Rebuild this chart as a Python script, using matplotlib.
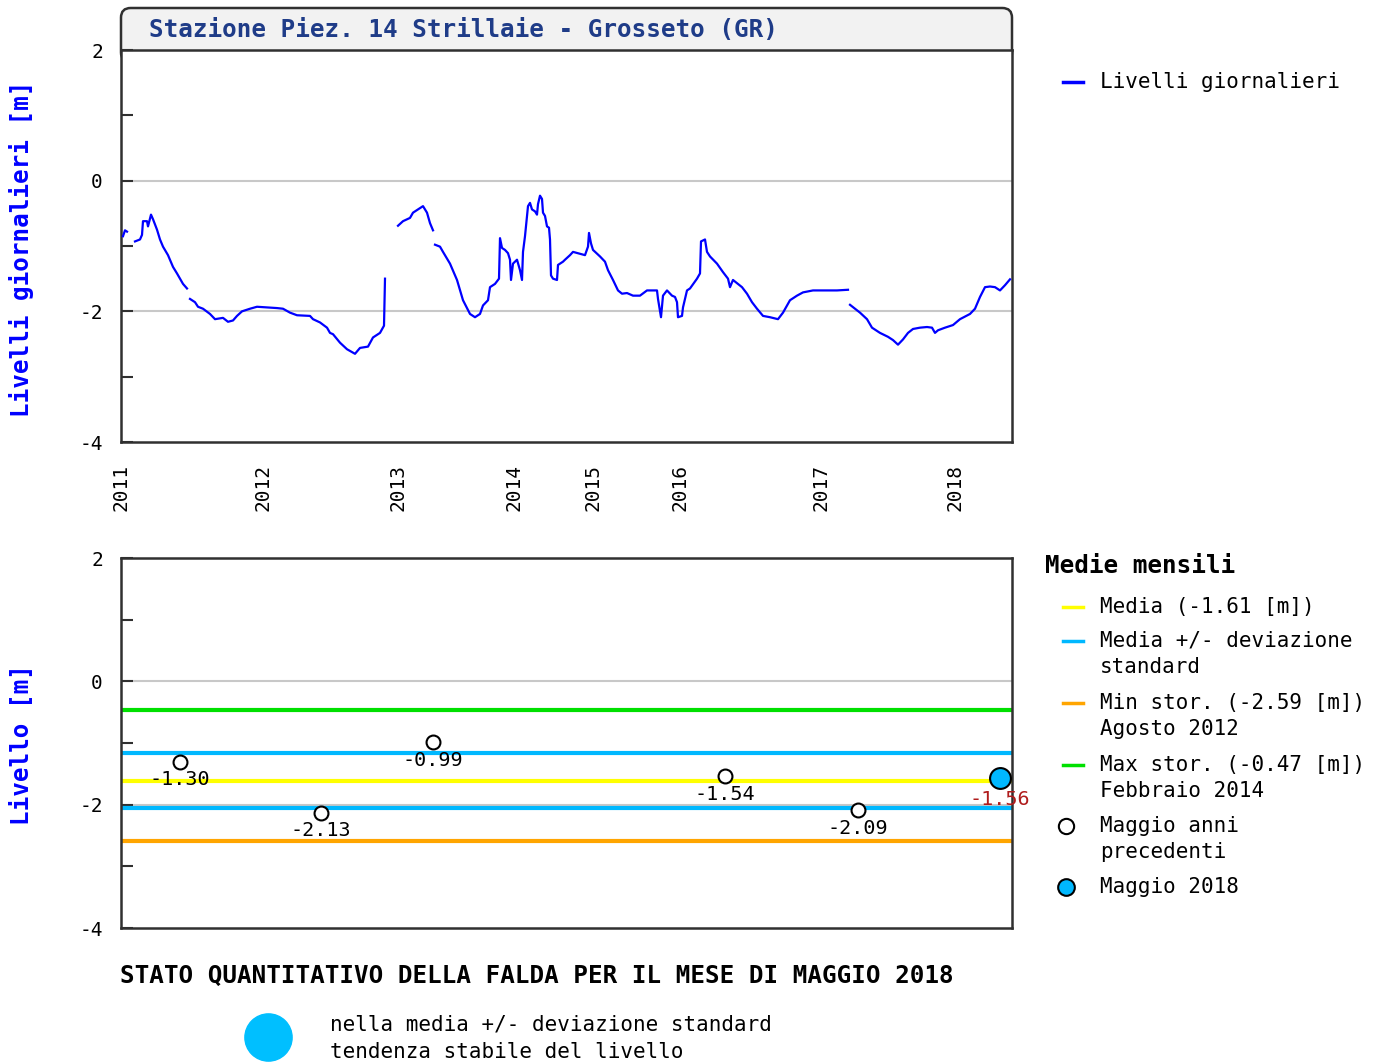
import numpy as np
import matplotlib
matplotlib.use('Agg')
import matplotlib.pyplot as plt
from matplotlib.lines import Line2D
from matplotlib.patches import FancyBboxPatch

W, H = 1381, 1062
MONO = 'DejaVu Sans Mono'
nan = np.nan

# ---------------- data ----------------
# daily levels: x = progressive sample index along the (non-linear) time axis; nan = gap
idx = [2, 4, 6, 9,
       14, 19, 21, 22, 26, 27, 30, 32, 34, 36, 39, 42, 47, 52, 56, 59, 62, 66, 67,
       69, 74, 77, 82, 89, 94, 102, 107, 112, 116, 121, 129, 136, 146, 156, 162, 169, 176,
       189, 192, 199, 206, 209, 212, 219, 226, 234, 239, 247, 252, 259, 262, 263, 264, 270,
       277, 282, 289, 292, 297, 302, 306, 309, 312, 313,
       314, 319, 322, 329, 336, 342, 349, 354, 359, 362, 367, 369, 374, 377, 378, 379, 381,
       384, 387, 389, 390, 392, 396, 399, 401, 402, 404, 407, 409, 411, 414, 416, 417, 419,
       421, 422, 424, 426, 428, 429, 430, 432, 436, 437, 442, 444, 449, 452, 459, 464, 467,
       468, 470, 472, 479, 484, 487, 492, 497, 501, 506, 512, 519, 526, 536, 537, 540, 542,
       546, 551, 554, 556, 557, 561, 562, 566, 569, 576, 579, 580, 584, 586, 589, 596, 602,
       607, 609, 612, 621, 626, 631, 636, 642, 649, 657, 662, 669, 676, 682, 692, 706, 716,
       727, 728,
       729, 739, 746, 751, 759, 767, 772, 777, 782, 787, 792, 799, 806, 811, 814, 817, 824,
       832, 839, 849, 854, 859, 864, 869, 874, 879, 884, 889]
livelli = [-0.85, -0.76, -0.78, nan,
           -0.93, -0.90, -0.83, -0.62, -0.62, -0.70, -0.52, -0.59, -0.67, -0.75, -0.90, -1.01,
           -1.14, -1.32, -1.42, -1.50, -1.58, -1.65, nan,
           -1.81, -1.86, -1.93, -1.96, -2.04, -2.12, -2.10, -2.16, -2.14, -2.07, -2.00, -1.96,
           -1.93, -1.94, -1.95, -1.96, -2.02, -2.06, -2.07, -2.12, -2.17, -2.25, -2.33, -2.35,
           -2.48, -2.58, -2.65, -2.56, -2.54, -2.40, -2.33, -2.25, -2.22, -1.50, nan,
           -0.69, -0.62, -0.57, -0.49, -0.44, -0.39, -0.49, -0.65, -0.76, nan,
           -0.98, -1.01, -1.09, -1.27, -1.52, -1.83, -2.04, -2.09, -2.04, -1.91, -1.83, -1.63,
           -1.58, -1.52, -1.50, -0.88, -1.03, -1.06, -1.11, -1.21, -1.52, -1.27, -1.21, -1.37,
           -1.52, -1.09, -0.85, -0.39, -0.34, -0.44, -0.47, -0.52, -0.36, -0.23, -0.28, -0.49,
           -0.54, -0.70, -0.72, -0.90, -1.45, -1.50, -1.52, -1.29, -1.24, -1.21, -1.14, -1.09,
           -1.12, -1.14, -1.01, -0.80, -0.96, -1.06, -1.16, -1.24, -1.37, -1.52, -1.68, -1.73,
           -1.72, -1.76, -1.76, -1.68, -1.68, -1.81, -2.09, -1.76, -1.68, -1.76, -1.78, -1.86,
           -2.09, -2.07, -1.94, -1.68, -1.65, -1.50, -1.42, -0.93, -0.90, -1.09, -1.16, -1.27,
           -1.40, -1.50, -1.63, -1.52, -1.63, -1.73, -1.86, -1.96, -2.07, -2.09, -2.12, -2.02,
           -1.83, -1.76, -1.71, -1.68, -1.68, -1.68, -1.67, nan,
           -1.90, -2.02, -2.12, -2.25, -2.33, -2.39, -2.44, -2.51, -2.43, -2.33, -2.27, -2.25,
           -2.24, -2.25, -2.33, -2.29, -2.25, -2.21, -2.12, -2.04, -1.96, -1.78, -1.63, -1.62,
           -1.63, -1.68, -1.60, -1.51]
idx_max = 891

year_labels = ['2011', '2012', '2013', '2014', '2015', '2016', '2017', '2018']
year_idx = [0, 142, 277, 393, 472, 559, 700, 834]

# monthly (May) values
may_idx = [59, 200, 312, 604, 737]
may_vals = [-1.30, -2.13, -0.99, -1.54, -2.09]
cur_idx = [879]
cur_vals = [-1.56]
media = -1.61
dev_std = 0.445
min_stor = -2.59
max_stor = -0.47

yticks_major = [-4, -2, 0, 2]
yticks_minor = [-3, -1, 1]

# ---------------- figure ----------------
fig = plt.figure(figsize=(W / 100, H / 100), dpi=100)


def box(l, t, r, b):
    return [l / W, 1 - b / H, (r - l) / W, (b - t) / H]


def P(x, y):
    return (x / W, 1 - y / H)


ax1 = fig.add_axes(box(121, 50, 1012, 442))
ax2 = fig.add_axes(box(121, 558, 1012, 928))

FRAME = '#303030'
GRID = '#c8c8c8'

for ax in (ax1, ax2):
    ax.set_xlim(0, idx_max)
    ax.set_ylim(-4, 2)
    ax.set_yticks(yticks_major)
    ax.set_yticks(yticks_minor, minor=True)
    ax.set_yticklabels([str(v) for v in yticks_major], family=MONO, fontsize=14)
    ax.tick_params(axis='y', which='both', direction='in', length=8.5, width=1.5,
                   color=FRAME, pad=13)
    for s in ax.spines.values():
        s.set_color(FRAME)
        s.set_linewidth(1.8)
    for g in (0, -2):
        ax.axhline(g, color=GRID, lw=1.5, zorder=0)

# top: daily levels
ax1.plot(idx, livelli, color='#0000ff', lw=1.6, zorder=3)
ax1.set_xticks(year_idx)
ax1.set_xticklabels(year_labels, rotation=90, family=MONO, fontsize=14)
ax1.tick_params(axis='x', length=0, pad=16)

# bottom: monthly stats
ax2.set_xticks([])
ax2.axhline(max_stor, color='#00e000', lw=3, zorder=2)
ax2.axhline(media + dev_std, color='#00b8ff', lw=3, zorder=2)
ax2.axhline(media - dev_std, color='#00b8ff', lw=3, zorder=2)
ax2.axhline(media, color='#ffff00', lw=3, zorder=2)
ax2.axhline(min_stor, color='#ffa500', lw=3, zorder=2)
ax2.plot(may_idx, may_vals, 'o', ms=10, mfc='white', mec='black', mew=1.5, zorder=4,
         clip_on=False)
ax2.plot(cur_idx, cur_vals, 'o', ms=15, mfc='#00b8ff', mec='black', mew=1.5, zorder=4,
         clip_on=False)
for x, v in zip(may_idx, may_vals):
    ax2.annotate(f'{v:.2f}', (x, v), xytext=(0, -13), textcoords='offset points',
                 ha='center', va='center', family=MONO, fontsize=14.5, zorder=5)
for x, v in zip(cur_idx, cur_vals):
    ax2.annotate(f'{v:.2f}', (x, v), xytext=(0, -16), textcoords='offset points',
                 ha='center', va='center', family=MONO, fontsize=14.5, color='#b01c1c',
                 zorder=5, annotation_clip=False)

# title box
tb = FancyBboxPatch(P(121, 62), (1012 - 121) / W, (62 - 8) / H,
                    boxstyle='round,pad=0,rounding_size=0.007', mutation_aspect=W / H,
                    transform=fig.transFigure, facecolor='#f2f2f2', edgecolor=FRAME,
                    lw=1.8, zorder=-1)
fig.patches.append(tb)
fig.text(*P(149, 30), 'Stazione Piez. 14 Strillaie - Grosseto (GR)', ha='left',
         va='center', family=MONO, weight='bold', fontsize=17.5, color='#1f3c88')

# y labels
fig.text(*P(22, 249), 'Livelli giornalieri [m]', rotation=90, ha='center', va='center',
         family=MONO, weight='bold', fontsize=17.5, color='#0000ff')
fig.text(*P(22, 745), 'Livello [m]', rotation=90, ha='center', va='center',
         family=MONO, weight='bold', fontsize=17.5, color='#0000ff')


def leg_line(y, color):
    fig.add_artist(Line2D([1063 / W, 1083 / W], [1 - y / H] * 2, color=color, lw=2.5,
                          transform=fig.transFigure))


def leg_marker(y, fc, ms):
    fig.add_artist(Line2D([1066 / W], [1 - y / H], marker='o', ms=ms, mfc=fc, mec='black',
                          mew=1.5, ls='none', transform=fig.transFigure))


def leg_text(y, lines):
    for i, s in enumerate(lines):
        fig.text(*P(1100, y + 26 * i), s, ha='left', va='center', family=MONO, fontsize=15)


# top legend
leg_line(82, '#0000ff')
leg_text(82, ['Livelli giornalieri'])

# bottom legend
fig.text(*P(1045, 566), 'Medie mensili', ha='left', va='center', family=MONO,
         weight='bold', fontsize=17.5)
leg_line(607, '#ffff00')
leg_text(607, [f'Media ({media:.2f} [m])'])
leg_line(641, '#00b8ff')
leg_text(641, ['Media +/- deviazione', 'standard'])
leg_line(703, '#ffa500')
leg_text(703, [f'Min stor. ({min_stor:.2f} [m])', 'Agosto 2012'])
leg_line(765, '#00e000')
leg_text(765, [f'Max stor. ({max_stor:.2f} [m])', 'Febbraio 2014'])
leg_marker(826, 'white', 11)
leg_text(826, ['Maggio anni', 'precedenti'])
leg_marker(887, '#00b8ff', 12)
leg_text(887, ['Maggio 2018'])

# status footer
fig.text(*P(120, 976), 'STATO QUANTITATIVO DELLA FALDA PER IL MESE DI MAGGIO 2018',
         ha='left', va='center', family=MONO, weight='bold', fontsize=17.5)
fig.add_artist(Line2D([268 / W], [1 - 1037 / H], marker='o', ms=34, mfc='#00bfff',
                      mec='#00bfff', ls='none', transform=fig.transFigure))
fig.text(*P(330, 1025), 'nella media +/- deviazione standard', ha='left', va='center',
         family=MONO, fontsize=15)
fig.text(*P(330, 1052), 'tendenza stabile del livello', ha='left', va='center',
         family=MONO, fontsize=15)

fig.savefig('out.png', dpi=100, facecolor='white')
